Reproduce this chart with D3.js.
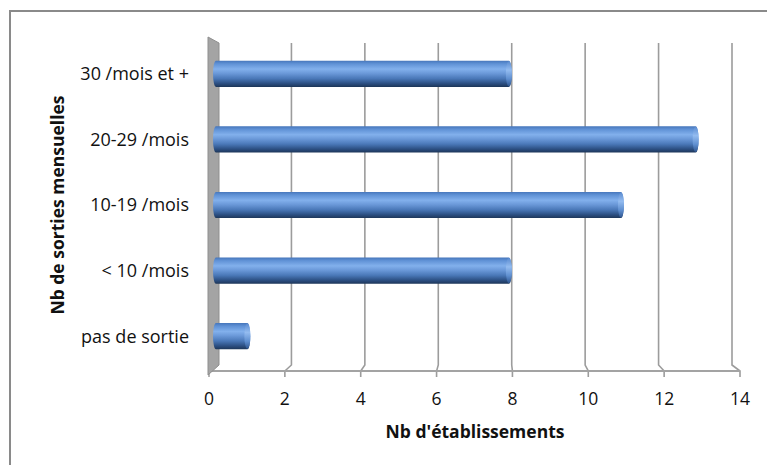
<!DOCTYPE html>
<html>
<head>
<meta charset="utf-8">
<script src="https://cdn.jsdelivr.net/npm/d3@7"></script>
<style>
  html, body { margin: 0; padding: 0; background: #fff; }
  svg { display: block; }
  text { font-family: "Open Sans", "Noto Sans", sans-serif; fill: #111; }
</style>
</head>
<body>
<svg id="chart" width="767" height="465"></svg>
<script>
// Number of establishments by monthly outings
const categories = ["30 /mois et +", "20-29 /mois", "10-19 /mois", "< 10 /mois", "pas de sortie"];
const values = [8, 13, 11, 8, 1];
const xTicks = [0, 2, 4, 6, 8, 10, 12, 14];
const xTitle = "Nb d'établissements";
const yTitle = "Nb de sorties mensuelles";

const svg = d3.select("#chart");

// Outer frame (left and top edges visible)
svg.append("rect")
  .attr("x", 10).attr("y", 11)
  .attr("width", 800).attr("height", 500)
  .attr("fill", "none").attr("stroke", "#8a8a8a").attr("stroke-width", 2);

// Perspective: back wall scale, front edge scale, and mid-depth scale for bars
const xBack = d3.scaleLinear().domain([0, 14]).range([218, 732]);
const xFront = d3.scaleLinear().domain([0, 14]).range([209, 740]);
const xBar = d3.scaleLinear().domain([0, 14]).range([213, 736]);
const y = d3.scaleBand().domain(categories).range([41, 369]).paddingInner(0.6).paddingOuter(0.3);

const topBack = 43, bottomBack = 365, floorY = 371;

// Gradients
const defs = svg.append("defs");
const g = defs.append("linearGradient").attr("id", "barGrad")
  .attr("x1", 0).attr("y1", 0).attr("x2", 0).attr("y2", 1);
[["0%", "#4676bb"], ["12%", "#6092d6"], ["32%", "#82b0ec"], ["48%", "#6b99d9"],
 ["68%", "#4a78b8"], ["86%", "#2d5185"], ["100%", "#1d3659"]]
  .forEach(([o, c]) => g.append("stop").attr("offset", o).attr("stop-color", c));
const gc = defs.append("linearGradient").attr("id", "capGrad")
  .attr("x1", 0).attr("y1", 0).attr("x2", 0).attr("y2", 1);
[["0%", "#5a8bd0"], ["35%", "#94bcf0"], ["70%", "#5f8fd0"], ["100%", "#2f5690"]]
  .forEach(([o, c]) => gc.append("stop").attr("offset", o).attr("stop-color", c));

// Gridlines on the back wall, running down to the floor edge
const grid = svg.append("g").attr("fill", "none").attr("stroke", "#9c9c9c").attr("stroke-width", 1.6);
xTicks.filter(v => v > 0).forEach(v => {
  grid.append("path").attr("d", d3.line()([
    [xBack(v), topBack], [xBack(v), bottomBack], [xFront(v), floorY], [xFront(v), floorY + 6]
  ]));
});

// Floor front edge
svg.append("path")
  .attr("d", d3.line()([[xFront(0), floorY], [xFront(14), floorY]]))
  .attr("stroke", "#a3a3a3").attr("stroke-width", 1.8).attr("fill", "none");
svg.append("path")
  .attr("d", d3.line()([[xFront(0), floorY], [xFront(0), floorY + 6]]))
  .attr("stroke", "#a3a3a3").attr("stroke-width", 1.6).attr("fill", "none");

// Left side wall
svg.append("path")
  .attr("d", d3.line()([[xFront(0) - 1, 37], [xBack(0) + 1, topBack], [xBack(0) + 1, bottomBack], [xFront(0) - 1, 375]]) + "Z")
  .attr("fill", "#a4a4a4").attr("stroke", "#8e8e8e").attr("stroke-width", 1);

// Cylinder bars
const bars = svg.append("g");
categories.forEach((c, i) => {
  const v = values[i];
  const y0 = y(c), h = y.bandwidth();
  const x0 = xBar(0), x1 = xBar(v);
  bars.append("rect")
    .attr("x", x0).attr("y", y0)
    .attr("width", x1 - x0).attr("height", h)
    .attr("rx", 3).attr("ry", h / 2)
    .attr("fill", "url(#barGrad)");
  bars.append("ellipse")
    .attr("cx", x1 - 3).attr("cy", y0 + h / 2)
    .attr("rx", 3).attr("ry", h / 2 - 0.5)
    .attr("fill", "url(#capGrad)");
});

// Category labels
svg.append("g").selectAll("text").data(categories).join("text")
  .attr("x", 189)
  .attr("y", d => y(d) + y.bandwidth() / 2)
  .attr("dy", "0.36em")
  .attr("text-anchor", "end")
  .attr("font-size", 18)
  .text(d => d);

// Value axis labels
svg.append("g").selectAll("text").data(xTicks).join("text")
  .attr("x", d => xFront(d))
  .attr("y", 405)
  .attr("text-anchor", "middle")
  .attr("font-size", 17.5)
  .text(d => d);

// Axis titles
svg.append("text")
  .attr("x", 475).attr("y", 438)
  .attr("text-anchor", "middle")
  .attr("font-size", 17.5).attr("font-weight", "bold")
  .text(xTitle);
svg.append("text")
  .attr("transform", "translate(64,205) rotate(-90)")
  .attr("text-anchor", "middle")
  .attr("font-size", 17.5).attr("font-weight", "bold")
  .text(yTitle);
</script>
</body>
</html>
